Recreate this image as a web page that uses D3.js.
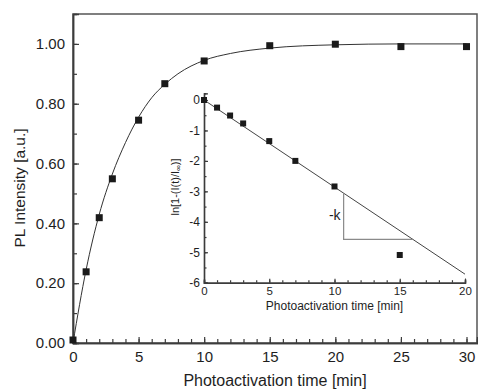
<!DOCTYPE html>
<html>
<head>
<meta charset="utf-8">
<script src="https://cdn.jsdelivr.net/npm/d3@7"></script>
<style>
  body { margin: 0; background: #fff; }
  text { font-family: "Liberation Sans", Arial, sans-serif; fill: #1e1e1e; }
</style>
</head>
<body>
<div id="container"></div>
<script>
// main plot: measured PL intensity
const times = [0, 1, 2, 3, 5, 7, 10, 15, 20, 25, 30];
const intensity = [0.01, 0.238, 0.419, 0.549, 0.745, 0.867, 0.943, 0.994, 0.999, 0.991, 0.991];
// fitted curve
const fitTimes = [0, 1, 2, 3, 4, 5, 6, 7, 8, 10, 12, 15, 20, 25, 30];
const fitValues = [0, 0.245, 0.43, 0.565, 0.67, 0.755, 0.82, 0.865, 0.9, 0.945, 0.968, 0.986, 0.997, 1.0, 1.0];
const mainXTicks = [0, 5, 10, 15, 20, 25, 30];
const mainYTicks = [0, 0.2, 0.4, 0.6, 0.8, 1.0];

// inset: ln[1 - I(t)/I∞]
const insetTimes = [0, 1, 2, 3, 5, 7, 10, 15];
const insetValues = [0, -0.25, -0.51, -0.77, -1.35, -2.0, -2.84, -5.09];
const insetFitTimes = [0, 20];
const insetFitValues = [0, -5.72];
const insetXTicks = [0, 5, 10, 15, 20];
const insetYTicks = [0, -1, -2, -3, -4, -5, -6];
// slope triangle corners (time, value)
const triTimes = [10.7, 10.7, 16.0];
const triValues = [-3.06, -4.58, -4.58];

const width = 478;
const height = 389;
const svg = d3
  .select("#container")
  .append("svg")
  .attr("width", width)
  .attr("height", height);

const axisColor = "#3c3c3c";

// ---------- main plot ----------
const x = d3.scaleLinear().domain([0, 30.8]).range([73, 477]);
const y = d3.scaleLinear().domain([0, 1.1]).range([343, 14]);

// frame
svg
  .append("rect")
  .attr("x", x(0))
  .attr("y", y(1.1))
  .attr("width", x(30.8) - x(0))
  .attr("height", y(0) - y(1.1))
  .attr("fill", "none")
  .attr("stroke", "#555")
  .attr("stroke-width", 1.5);

function styleAxis(g, size) {
  g.select(".domain").attr("stroke", axisColor).attr("stroke-width", 1.5);
  g.selectAll(".tick line").attr("stroke", axisColor).attr("stroke-width", 1.2);
  g.selectAll(".tick text").attr("font-size", size).attr("fill", "#1e1e1e");
}

// x axis, ticks pointing inward
const xMinor = svg
  .append("g")
  .attr("transform", `translate(0,${y(0)})`)
  .call(d3.axisBottom(x).tickValues(d3.range(0, 31, 1)).tickSize(-4).tickFormat(""));
styleAxis(xMinor, 15);
const xAxis = svg
  .append("g")
  .attr("transform", `translate(0,${y(0)})`)
  .call(d3.axisBottom(x).tickValues(mainXTicks).tickSize(-6).tickPadding(8).tickFormat(d3.format("d")));
styleAxis(xAxis, 15);

// y axis
const yMinor = svg
  .append("g")
  .attr("transform", `translate(${x(0)},0)`)
  .call(d3.axisLeft(y).tickValues(d3.range(0, 1.05, 0.1)).tickSize(-4).tickFormat(""));
styleAxis(yMinor, 15);
const yAxis = svg
  .append("g")
  .attr("transform", `translate(${x(0)},0)`)
  .call(d3.axisLeft(y).tickValues(mainYTicks).tickSize(-6).tickPadding(8).tickFormat(d3.format(".2f")));
styleAxis(yAxis, 15);

// fit curve
const mainLine = d3
  .line()
  .x((d, i) => x(fitTimes[i]))
  .y((d) => y(d))
  .curve(d3.curveMonotoneX);
svg
  .append("path")
  .attr("d", mainLine(fitValues))
  .attr("fill", "none")
  .attr("stroke", "#333")
  .attr("stroke-width", 1);

// data squares
svg
  .append("g")
  .selectAll("rect")
  .data(intensity)
  .enter()
  .append("rect")
  .attr("x", (d, i) => x(times[i]) - 3.5)
  .attr("y", (d) => y(d) - 3.5)
  .attr("width", 7)
  .attr("height", 7)
  .attr("fill", "#1a1a1a");

// axis titles
svg
  .append("text")
  .attr("x", (x(0) + x(30.8)) / 2)
  .attr("y", 386)
  .attr("text-anchor", "middle")
  .attr("font-size", 16)
  .text("Photoactivation time [min]");
svg
  .append("text")
  .attr("transform", "translate(25,188) rotate(-90)")
  .attr("text-anchor", "middle")
  .attr("font-size", 15.5)
  .text("PL Intensity [a.u.]");

// ---------- inset ----------
const xi = d3.scaleLinear().domain([0, 20]).range([204, 465]);
const yi = d3.scaleLinear().domain([-6, 0.22]).range([282.7, 93.3]);

const xiMinor = svg
  .append("g")
  .attr("transform", `translate(0,${yi(-6)})`)
  .call(d3.axisBottom(xi).tickValues(d3.range(0, 21, 1)).tickSize(-2.5).tickFormat(""));
styleAxis(xiMinor, 11.5);
const xiAxis = svg
  .append("g")
  .attr("transform", `translate(0,${yi(-6)})`)
  .call(d3.axisBottom(xi).tickValues(insetXTicks).tickSize(-4).tickPadding(4).tickFormat(d3.format("d")));
styleAxis(xiAxis, 11.5);

const yiMinor = svg
  .append("g")
  .attr("transform", `translate(${xi(0)},0)`)
  .call(d3.axisLeft(yi).tickValues(d3.range(-6, 0.01, 0.5)).tickSize(-2.5).tickFormat(""));
styleAxis(yiMinor, 12);
const yiAxis = svg
  .append("g")
  .attr("transform", `translate(${xi(0)},0)`)
  .call(d3.axisLeft(yi).tickValues(insetYTicks).tickSize(-4).tickPadding(4).tickFormat(d3.format("d")));
styleAxis(yiAxis, 12);
// use a hyphen-minus like the original
yiAxis.selectAll(".tick text").text((d) => String(d));
xiAxis.select(".domain").attr("stroke-width", 1.2);
yiAxis.select(".domain").attr("stroke-width", 1.2);

// fit line
const insetLine = d3
  .line()
  .x((d, i) => xi(insetFitTimes[i]))
  .y((d) => yi(d));
svg
  .append("path")
  .attr("d", insetLine(insetFitValues))
  .attr("fill", "none")
  .attr("stroke", "#444")
  .attr("stroke-width", 1);

// slope triangle
const triLine = d3
  .line()
  .x((d, i) => xi(triTimes[i]))
  .y((d) => yi(d));
svg
  .append("path")
  .attr("d", triLine(triValues))
  .attr("fill", "none")
  .attr("stroke", "#8a8a8a")
  .attr("stroke-width", 1.2);
svg
  .append("text")
  .attr("x", xi(10.7) - 3)
  .attr("y", yi(-3.95))
  .attr("text-anchor", "end")
  .attr("font-size", 14)
  .text("-k");

svg
  .append("g")
  .selectAll("rect")
  .data(insetValues)
  .enter()
  .append("rect")
  .attr("x", (d, i) => xi(insetTimes[i]) - 3)
  .attr("y", (d) => yi(d) - 3)
  .attr("width", 6)
  .attr("height", 6)
  .attr("fill", "#1a1a1a");

svg
  .append("text")
  .attr("x", (xi(0) + xi(20)) / 2)
  .attr("y", 309.5)
  .attr("text-anchor", "middle")
  .attr("font-size", 12)
  .text("Photoactivation time [min]");
const yiTitle = svg
  .append("text")
  .attr("transform", "translate(179,187) rotate(-90)")
  .attr("text-anchor", "middle")
  .attr("font-size", 11);
yiTitle.append("tspan").text("ln[1-(I(t)/I");
yiTitle.append("tspan").attr("font-size", 8).attr("dy", 1.5).text("∞");
yiTitle.append("tspan").attr("dy", -1.5).text(")]");
</script>
</body>
</html>
